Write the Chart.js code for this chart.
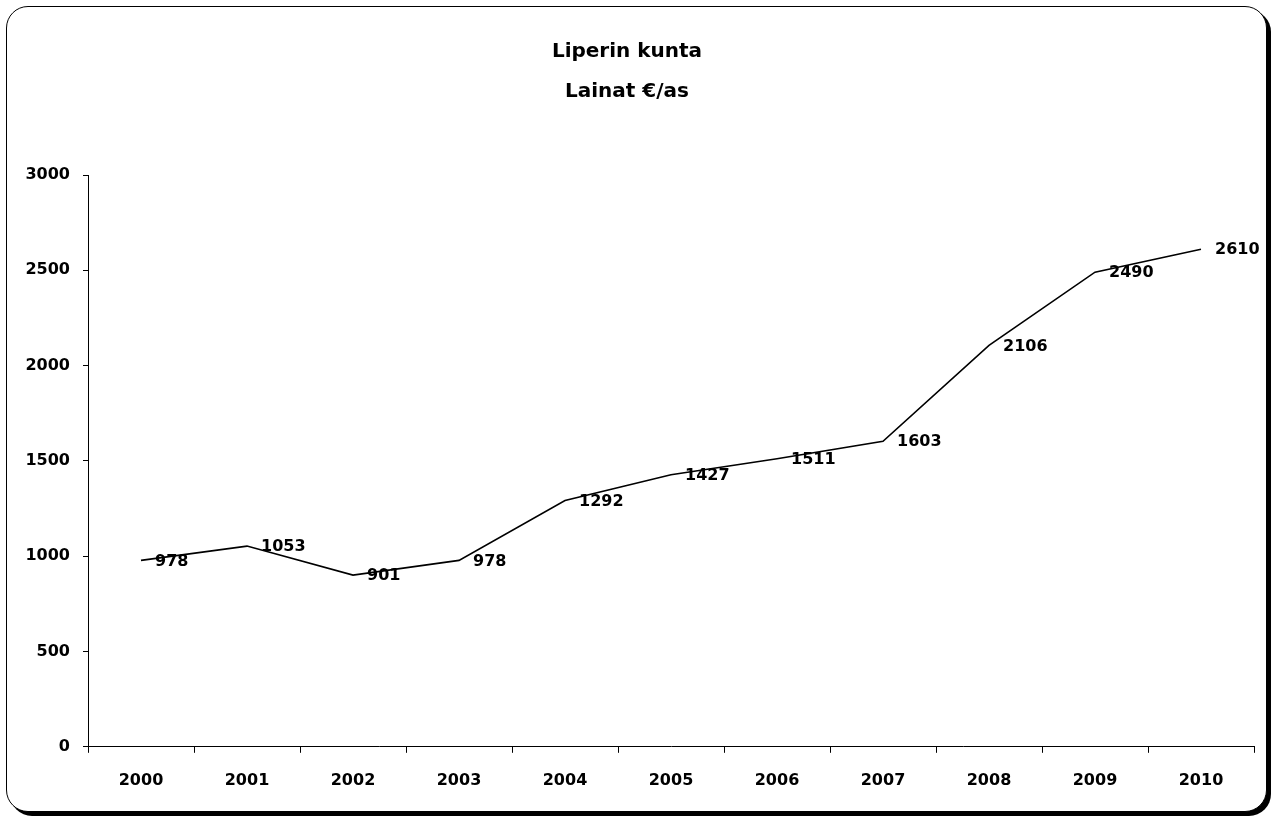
<!DOCTYPE html>
<html>
<head>
<meta charset="utf-8">
<script src="https://cdn.jsdelivr.net/npm/chart.js@4/dist/chart.umd.min.js"></script>
<style>
  html, body { margin: 0; padding: 0; background: #fff; }
  #frame {
    position: absolute; left: 6px; top: 6px; width: 1259px; height: 804px;
    border: 1px solid #000; border-radius: 22px;
    box-shadow: 4px 4px 0 #000; background: #fff;
  }
  #wrap { position: absolute; left: 0; top: 0; width: 1275px; height: 818px; }
</style>
</head>
<body>
<div id="frame"></div>
<div id="wrap"><canvas id="chart"></canvas></div>
<script>
const years = ['2000', '2001', '2002', '2003', '2004', '2005', '2006', '2007', '2008', '2009', '2010'];
const loansPerCapita = [978, 1053, 901, 978, 1292, 1427, 1511, 1603, 2106, 2490, 2610];
const titleLines = ['Liperin kunta', 'Lainat €/as'];

const FONT = 'Comic Sans MS, "DejaVu Sans", sans-serif';

// draws the value right of each point
const pointLabels = {
    id: 'pointLabels',
    afterDatasetsDraw(chart) {
        const ctx = chart.ctx;
        const meta = chart.getDatasetMeta(0);
        const data = chart.data.datasets[0].data;
        ctx.save();
        ctx.font = 'bold 16px ' + FONT;
        ctx.fillStyle = '#000';
        ctx.textAlign = 'left';
        ctx.textBaseline = 'middle';
        meta.data.forEach((el, i) => {
            ctx.fillText(String(data[i]), el.x + 14, el.y + 1);
        });
        ctx.restore();
    }
};

new Chart(document.getElementById('chart'), {
    type: 'line',
    data: {
        labels: years,
        datasets: [{
            data: loansPerCapita,
            borderColor: '#000',
            borderWidth: 1.6,
            pointRadius: 0,
            tension: 0,
            fill: false,
        }],
    },
    options: {
        responsive: true,
        maintainAspectRatio: false,
        animation: false,
        layout: {
            padding: {left: 0, right: 21, top: 0, bottom: 10},
        },
        plugins: {
            legend: {display: false},
            tooltip: {enabled: false},
            title: {
                display: true,
                text: titleLines,
                color: '#000',
                font: {family: FONT, size: 20, weight: 'bold', lineHeight: 2},
                padding: {top: 32, bottom: 63},
            },
        },
        scales: {
            x: {
                offset: true,
                grid: {offset: true, drawOnChartArea: false, tickLength: 6, color: '#000'},
                border: {display: true, color: '#000'},
                ticks: {color: '#000', padding: 18, maxRotation: 0, font: {family: FONT, size: 16, weight: 'bold'}},
            },
            y: {
                min: 0,
                max: 3000,
                grid: {drawOnChartArea: false, tickLength: 5, color: '#000'},
                border: {display: true, color: '#000'},
                ticks: {
                    stepSize: 500, color: '#000', padding: 13,
                    font: {family: FONT, size: 16, weight: 'bold'},
                    callback: (v) => String(v),
                },
                afterFit(scale) { scale.width = 88; },
            },
        },
    },
    plugins: [pointLabels],
});
</script>
</body>
</html>
